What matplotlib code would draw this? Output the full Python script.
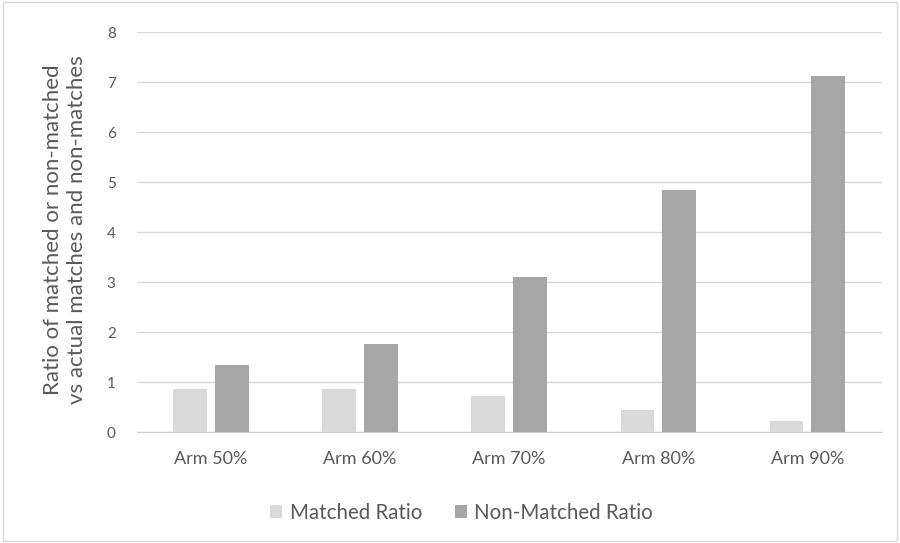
import matplotlib
matplotlib.use("Agg")
import matplotlib.pyplot as plt
import numpy as np

categories = ["Arm 50%", "Arm 60%", "Arm 70%", "Arm 80%", "Arm 90%"]
matched = [0.87, 0.87, 0.72, 0.45, 0.22]
non_matched = [1.35, 1.77, 3.10, 4.85, 7.13]
yticks = [0, 1, 2, 3, 4, 5, 6, 7, 8]

plt.rcParams['font.family'] = ['Lato', 'DejaVu Sans']

fig = plt.figure(figsize=(9, 5.43), dpi=100)
ax = fig.add_axes([0.1517, 0.2044, 0.828, 0.7366])

x = np.arange(len(categories))
w = 0.225
ax.bar(x - 0.14, matched, w, color="#d9d9d9", label="Matched Ratio", zorder=3)
ax.bar(x + 0.14, non_matched, w, color="#a6a6a6", label="Non-Matched Ratio", zorder=3)

ax.set_xlim(-0.5, len(categories) - 0.5)
ax.set_ylim(0, 8)
ax.set_yticks(yticks)
ax.set_xticks(x)
ax.set_xticklabels(categories)
ax.yaxis.grid(True, color="#d9d9d9", linewidth=1, zorder=0)
for s in ["top", "right", "left"]:
    ax.spines[s].set_visible(False)
ax.spines["bottom"].set_color("#d0d0d0")
ax.tick_params(axis="both", length=0, colors="#595959")
ax.tick_params(axis="y", pad=15, labelsize=11)
ax.tick_params(axis="x", pad=14, labelsize=13)

ax.set_ylabel("Ratio of matched or non-matched\nvs actual matches and non-matches",
              color="#595959", fontsize=16, linespacing=1.25)
ax.yaxis.set_label_coords(-0.066, 0.505)

leg = fig.legend(loc="center", bbox_to_anchor=(0.513, 0.055), ncol=2, frameon=False,
                 fontsize=14.8, handlelength=0.6, handleheight=0.6, columnspacing=1.6,
                 handletextpad=0.35)
for t in leg.get_texts():
    t.set_color("#595959")

border = plt.Rectangle((0.003, 0.003), 0.994, 0.994, transform=fig.transFigure,
                       fill=False, edgecolor="#d9d9d9", linewidth=1)
fig.patches.append(border)

fig.savefig("out.png", dpi=100)
